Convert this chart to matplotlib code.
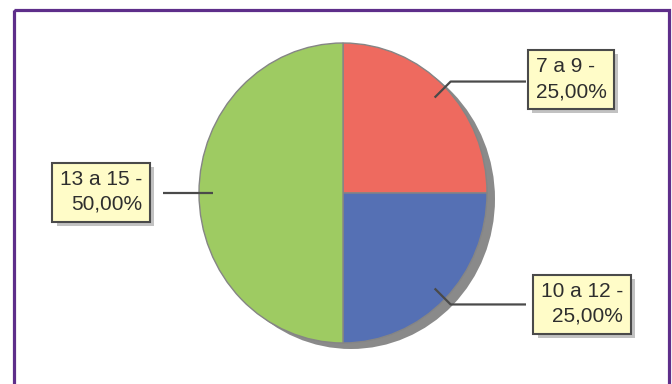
import matplotlib.pyplot as plt
import matplotlib.patheffects as pe
from matplotlib.patches import Rectangle
import numpy as np

plt.rcParams['font.family'] = ['Liberation Sans', 'DejaVu Sans']

# data
categorias = ['7 a 9', '10 a 12', '13 a 15']
porcentajes = [25.0, 25.0, 50.0]
colores = ['#EE6A5F', '#5570B4', '#9ECB62']

# layout (pixels, image coords)
W, H = 672, 384
cx, cy = 343, 193
rx, ry = 144, 150
caja_centro = [(571, 79), (582, 304), (101, 192)]
caja_borde = [526, 526, 163]
alineacion = ['left', 'right', 'right']

fig = plt.figure(figsize=(W / 100, H / 100), dpi=100)

# pie axes
ax = fig.add_axes([(cx - rx) / W, (H - cy - ry) / H, 2 * rx / W, 2 * ry / H])
ax.pie(porcentajes, colors=['#8a8a8a'] * 3, startangle=90, counterclock=False,
       center=(8 / rx, -6 / ry), wedgeprops=dict(linewidth=0))
wedges, _ = ax.pie(porcentajes, colors=colores, startangle=90, counterclock=False,
                   wedgeprops=dict(edgecolor='#858585', linewidth=1.0))
ax.set_aspect('auto')
ax.set_xlim(-1, 1)
ax.set_ylim(-1, 1)
ax.axis('off')

# overlay axes in pixel coords
ov = fig.add_axes([0, 0, 1, 1], zorder=5)
ov.set_xlim(0, W)
ov.set_ylim(H, 0)
ov.axis('off')
ov.patch.set_alpha(0)

ov.add_patch(Rectangle((14, 10), 655, 400, fill=False, edgecolor='#5E2E8A',
                       linewidth=2.3, clip_on=False))

for w, cat, p, (bx, by), borde, al in zip(wedges, categorias, porcentajes,
                                          caja_centro, caja_borde, alineacion):
    ang = np.deg2rad((w.theta1 + w.theta2) / 2)
    ax_ = cx + 0.9 * rx * np.cos(ang)
    ay_ = cy - 0.9 * ry * np.sin(ang)
    if abs(np.cos(ang)) > 0.99:
        xs, ys = [ax_, borde], [ay_, ay_]
    else:
        ex = ax_ + 16
        ey = ay_ - 16 * np.sign(np.sin(ang))
        xs, ys = [ax_, ex, borde], [ay_, ey, ey]
    ov.plot(xs, ys, color='#4a4a4a', linewidth=1.6, solid_capstyle='butt')
    etiqueta = f"{cat} -\n{p:.2f}%".replace('.', ',')
    t = ov.text(bx, by, etiqueta, ha='center', va='center', multialignment=al,
                fontsize=15, color='#2e2e2e', linespacing=1.4,
                bbox=dict(boxstyle='square,pad=0.36', facecolor='#FFFCC8',
                          edgecolor='#4a4a4a', linewidth=1.5))
    t.get_bbox_patch().set_path_effects([
        pe.SimplePatchShadow(offset=(3, -3), shadow_rgbFace='#9a9a9a', alpha=0.6),
        pe.Normal()])

fig.savefig('out.png', dpi=100, facecolor='white')
